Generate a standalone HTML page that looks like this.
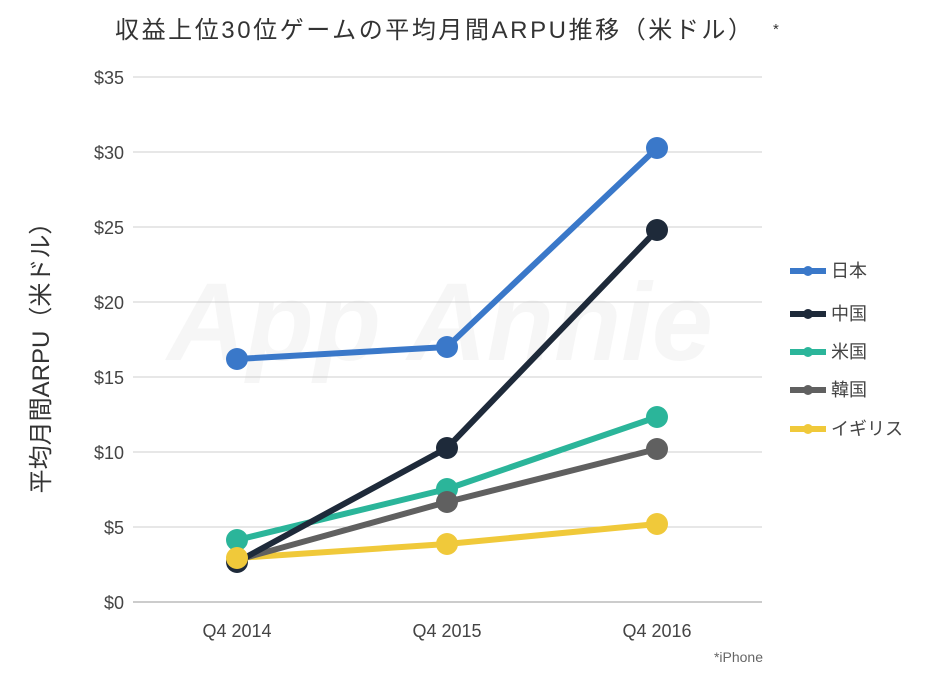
<!DOCTYPE html>
<html><head><meta charset="utf-8"><style>
body{margin:0;background:#fff;}
svg{display:block;font-family:"Liberation Sans","Noto Sans CJK JP",sans-serif;}
</style></head><body>
<svg width="944" height="693" viewBox="0 0 944 693">
<text x="115" y="38" font-size="24" fill="#333" textLength="637" lengthAdjust="spacing">収益上位30位ゲームの平均月間ARPU推移（米ドル）</text>
<text x="773" y="34" font-size="15" fill="#333">*</text>
<text x="440" y="360" font-size="110" fill="#000" fill-opacity="0.035" font-style="italic" font-weight="bold" text-anchor="middle">App Annie</text>
<g stroke="#cfcfcf" stroke-width="1">
<line x1="133" y1="77" x2="762" y2="77"/><line x1="133" y1="152" x2="762" y2="152"/>
<line x1="133" y1="227" x2="762" y2="227"/><line x1="133" y1="302" x2="762" y2="302"/>
<line x1="133" y1="377" x2="762" y2="377"/><line x1="133" y1="452" x2="762" y2="452"/>
<line x1="133" y1="527" x2="762" y2="527"/>
</g>
<line x1="133" y1="602" x2="762" y2="602" stroke="#999" stroke-width="1"/>
<g font-size="18" fill="#444" text-anchor="end">
<text x="124" y="84">$35</text><text x="124" y="159">$30</text><text x="124" y="234">$25</text>
<text x="124" y="309">$20</text><text x="124" y="384">$15</text><text x="124" y="459">$10</text>
<text x="124" y="534">$5</text><text x="124" y="609">$0</text>
</g>
<g font-size="18" fill="#444" text-anchor="middle">
<text x="237" y="637">Q4 2014</text><text x="447" y="637">Q4 2015</text><text x="657" y="637">Q4 2016</text>
</g>
<text x="763" y="662" font-size="14" fill="#666" text-anchor="end">*iPhone</text>
<text transform="translate(49,352) rotate(-90)" font-size="24" fill="#333" text-anchor="middle">平均月間ARPU（米ドル）</text>
<g stroke-width="6" fill="none" stroke-linejoin="round">
<polyline points="237,558 447,544 657,524" stroke="#f0c93a"/>
<polyline points="237,560 447,502 657,449" stroke="#606060"/>
<polyline points="237,540 447,489 657,417" stroke="#2bb59a"/>
<polyline points="237,562 447,448 657,230" stroke="#1e2a3a"/>
<polyline points="237,359 447,347 657,148" stroke="#3a78c9"/>
</g>
<g>
<circle cx="237" cy="359" r="11" fill="#3a78c9"/><circle cx="447" cy="347" r="11" fill="#3a78c9"/><circle cx="657" cy="148" r="11" fill="#3a78c9"/>
<circle cx="237" cy="562" r="11" fill="#1e2a3a"/><circle cx="447" cy="448" r="11" fill="#1e2a3a"/><circle cx="657" cy="230" r="11" fill="#1e2a3a"/>
<circle cx="237" cy="540" r="11" fill="#2bb59a"/><circle cx="447" cy="489" r="11" fill="#2bb59a"/><circle cx="657" cy="417" r="11" fill="#2bb59a"/>
<circle cx="447" cy="502" r="11" fill="#606060"/><circle cx="657" cy="449" r="11" fill="#606060"/>
<circle cx="237" cy="558" r="11" fill="#f0c93a"/><circle cx="447" cy="544" r="11" fill="#f0c93a"/><circle cx="657" cy="524" r="11" fill="#f0c93a"/>
</g>
<g stroke-width="6">
<line x1="790" y1="271" x2="826" y2="271" stroke="#3a78c9"/><circle cx="808" cy="271" r="5" fill="#3a78c9"/>
<line x1="790" y1="314" x2="826" y2="314" stroke="#1e2a3a"/><circle cx="808" cy="314" r="5" fill="#1e2a3a"/>
<line x1="790" y1="352" x2="826" y2="352" stroke="#2bb59a"/><circle cx="808" cy="352" r="5" fill="#2bb59a"/>
<line x1="790" y1="390" x2="826" y2="390" stroke="#606060"/><circle cx="808" cy="390" r="5" fill="#606060"/>
<line x1="790" y1="429" x2="826" y2="429" stroke="#f0c93a"/><circle cx="808" cy="429" r="5" fill="#f0c93a"/>
</g>
<g font-size="18" fill="#444">
<text x="831" y="277">日本</text><text x="831" y="320">中国</text><text x="831" y="358">米国</text>
<text x="831" y="396">韓国</text><text x="831" y="435">イギリス</text>
</g>
</svg>
</body></html>
